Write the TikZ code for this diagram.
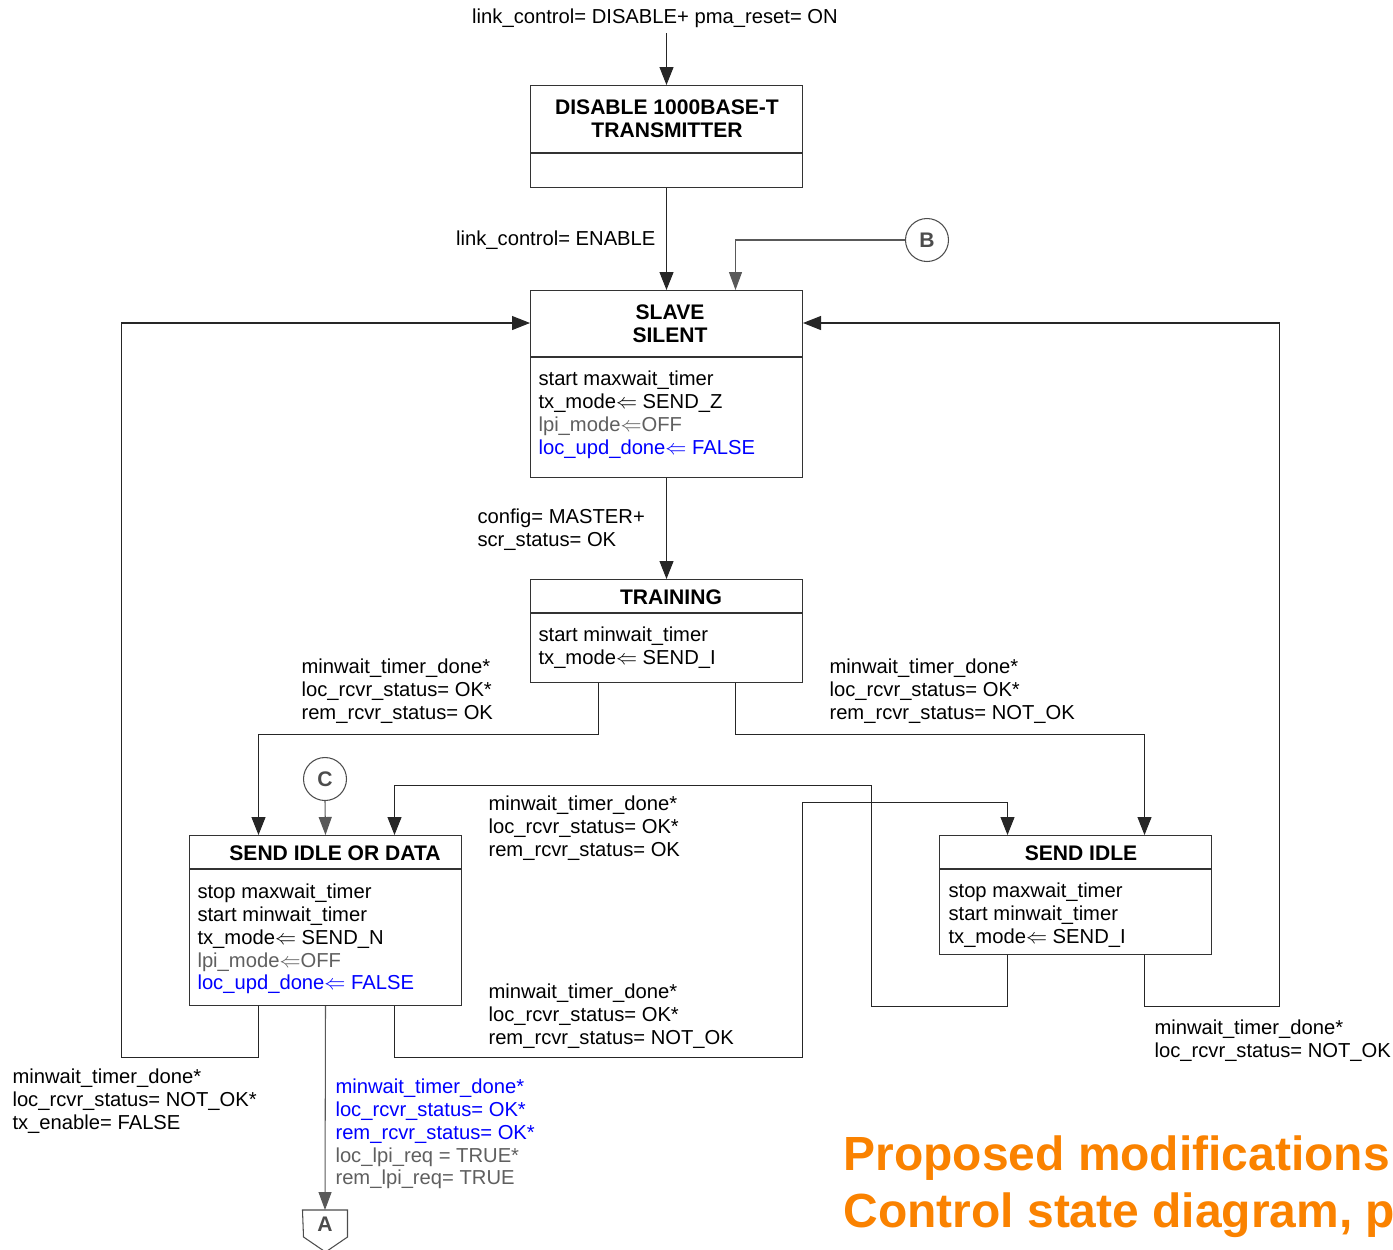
\documentclass[tikz,border=0pt]{standalone}
\usepackage{fontspec}
\setmainfont{Liberation Sans}
\usepackage{xcolor}
\usepackage{tikz}
\usetikzlibrary{arrows.meta, calc, positioning}
\definecolor{lpigray}{RGB}{95,95,95}
\definecolor{updblue}{RGB}{0,0,255}
\definecolor{titleorange}{RGB}{250,130,0}
\newcommand{\lblfont}{\fontsize{11.5}{13}\selectfont}
\newcommand{\ttlfont}{\fontsize{12}{13}\selectfont\bfseries}
\newcommand{\getsarrow}{$\Leftarrow$}

\begin{document}
\begin{tikzpicture}[x=0.02cm, y=-0.02cm, line width=0.6pt,
    state/.style={draw=black!80, rectangle, anchor=north west, minimum width=5.44cm, inner sep=0},
    ttl/.style={font=\ttlfont, align=center, inner sep=0},
    body/.style={font=\lblfont, align=left, anchor=west, inner sep=0},
    lbl/.style={font=\lblfont, align=left, anchor=west, inner sep=0},
    conn/.style={draw=black!70, circle, minimum size=0.86cm, inner sep=0, font=\ttlfont, text=black!70},
    arr/.style={draw=black!85, -{Triangle[length=0.36cm,width=0.28cm]}},
    garr/.style={draw=black!65, -{Triangle[length=0.36cm,width=0.26cm]}}]
        \useasboundingbox (0,0) rectangle (1393,1249);
        % states
        \node[state, minimum height=2.04cm] (disable) at (530,85) {};
        \draw[black!80] ($(disable.north west)+(0,68)$) -- ++(272,0);
        \node[ttl] (disable-t) at (667,119) {DISABLE 1000BASE-T\\TRANSMITTER};

        \node[state, minimum height=3.74cm] (slave) at (530,290) {};
        \draw[black!80] ($(slave.north west)+(0,67)$) -- ++(272,0);
        \node[ttl] (slave-t) at (670,323.5) {SLAVE\\SILENT};
        \node[body] (slave-b) at (538,415) {start maxwait\_timer\\tx\_mode\getsarrow{} SEND\_Z\\
          \textcolor{lpigray}{lpi\_mode\getsarrow{}OFF}\\\textcolor{updblue}{loc\_upd\_done\getsarrow{} FALSE}};

        \node[state, minimum height=2.06cm] (training) at (530,579) {};
        \draw[black!80] ($(training.north west)+(0,34)$) -- ++(272,0);
        \node[ttl] (training-t) at (671,597) {TRAINING};
        \node[body] (training-b) at (538,647.5) {start minwait\_timer\\tx\_mode\getsarrow{} SEND\_I};

        \node[state, minimum height=3.4cm] (sidata) at (189,835) {};
        \draw[black!80] ($(sidata.north west)+(0,34)$) -- ++(272,0);
        \node[ttl] (sidata-t) at (335,853) {SEND IDLE OR DATA};
        \node[body] (sidata-b) at (197,939) {stop maxwait\_timer\\start minwait\_timer\\tx\_mode\getsarrow{} SEND\_N\\
          \textcolor{lpigray}{lpi\_mode\getsarrow{}OFF}\\\textcolor{updblue}{loc\_upd\_done\getsarrow{} FALSE}};

        \node[state, minimum height=2.38cm] (sidle) at (939,835) {};
        \draw[black!80] ($(sidle.north west)+(0,34)$) -- ++(272,0);
        \node[ttl] (sidle-t) at (1081,853) {SEND IDLE};
        \node[body] (sidle-b) at (948,915) {stop maxwait\_timer\\start minwait\_timer\\tx\_mode\getsarrow{} SEND\_I};

        % connectors
        \node[conn] (B) at (927,240) {B};
        \node[conn] (C) at (325,779) {C};
        \node[font=\ttlfont, text=black!70, inner sep=0, minimum width=0.88cm, minimum height=0.54cm, anchor=north] (A) at (325,1210) {A};
        \draw[black!70] (A.north west) -- (A.north east) -- ++(0,27) -- ++(-22,15) -- ++(-22,-15) -- cycle;

        % labels
        \node[lbl, anchor=center] (reset-l) at (655,18) {link\_control= DISABLE+ pma\_reset= ON};
        \node[lbl, anchor=east] (enable-l) at (656,240) {link\_control= ENABLE};
        \node[lbl] (config-l) at (477,529.5) {config= MASTER+\\scr\_status= OK};
        \node[lbl] (ts-l) at (301,691) {minwait\_timer\_done*\\loc\_rcvr\_status= OK*\\rem\_rcvr\_status= OK};
        \node[lbl] (tsi-l) at (829,691) {minwait\_timer\_done*\\loc\_rcvr\_status= OK*\\rem\_rcvr\_status= NOT\_OK};
        \node[lbl] (back-l) at (488,828) {minwait\_timer\_done*\\loc\_rcvr\_status= OK*\\rem\_rcvr\_status= OK};
        \node[lbl] (fwd-l) at (488,1016) {minwait\_timer\_done*\\loc\_rcvr\_status= OK*\\rem\_rcvr\_status= NOT\_OK};
        \node[lbl] (sisl-l) at (1154,1040.5) {minwait\_timer\_done*\\loc\_rcvr\_status= NOT\_OK};
        \node[lbl] (sdsl-l) at (12,1101) {minwait\_timer\_done*\\loc\_rcvr\_status= NOT\_OK*\\tx\_enable= FALSE};
        \node[lbl] (lpi-l) at (335,1134) {\textcolor{updblue}{minwait\_timer\_done*}\\
          \textcolor{updblue}{loc\_rcvr\_status= OK*}\\\textcolor{updblue}{rem\_rcvr\_status= OK*}\\
          \textcolor{lpigray}{loc\_lpi\_req = TRUE*}\\\textcolor{lpigray}{rem\_lpi\_req= TRUE}};

        % transitions
        \draw[arr] ($(disable.north)+(0,-52)$) -- (disable.north);
        \draw[arr] (disable.south) -- (slave.north);
        \draw[garr] (B.west) -| ($(slave.north)+(69,0)$);
        \draw[arr] (slave.south) -- (training.north);
        \draw[arr] ($(training.south)+(-68,0)$) -- ++(0,51) -| ($(sidata.north)+(-67,0)$);
        \draw[arr] ($(training.south)+(69,0)$) -- ++(0,51) -| ($(sidle.north)+(69,0)$);
        \draw[garr] (C.south) -- (sidata.north);
        \draw[arr] ($(sidle.south)+(-68,0)$) -- ++(0,51) -- ++(-136,0) -- ++(0,-221) -| ($(sidata.north)+(69,0)$);
        \draw[arr] ($(sidata.south)+(69,0)$) -- ++(0,51) -- ++(408,0) -- ++(0,-255) -| ($(sidle.north)+(-68,0)$);
        \draw[arr] ($(sidle.south)+(69,0)$) -- ++(0,51) -- ++(135,0) |- ($(slave.north east)+(0,33)$);
        \draw[arr] ($(sidata.south)+(-67,0)$) -- ++(0,51) -- ++(-137,0) |- ($(slave.north west)+(0,33)$);
        \draw[garr] (sidata.south) -- (A.north);

        % slide title
        \node[font=\fontsize{27.3}{32}\selectfont\bfseries, text=titleorange, anchor=base west, inner sep=0] (title1) at (843,1170) {Proposed modifications};
        \node[font=\fontsize{27.3}{32}\selectfont\bfseries, text=titleorange, anchor=base west, inner sep=0] (title2) at (843,1227) {Control state diagram, p};
      \end{tikzpicture}
\end{document}
